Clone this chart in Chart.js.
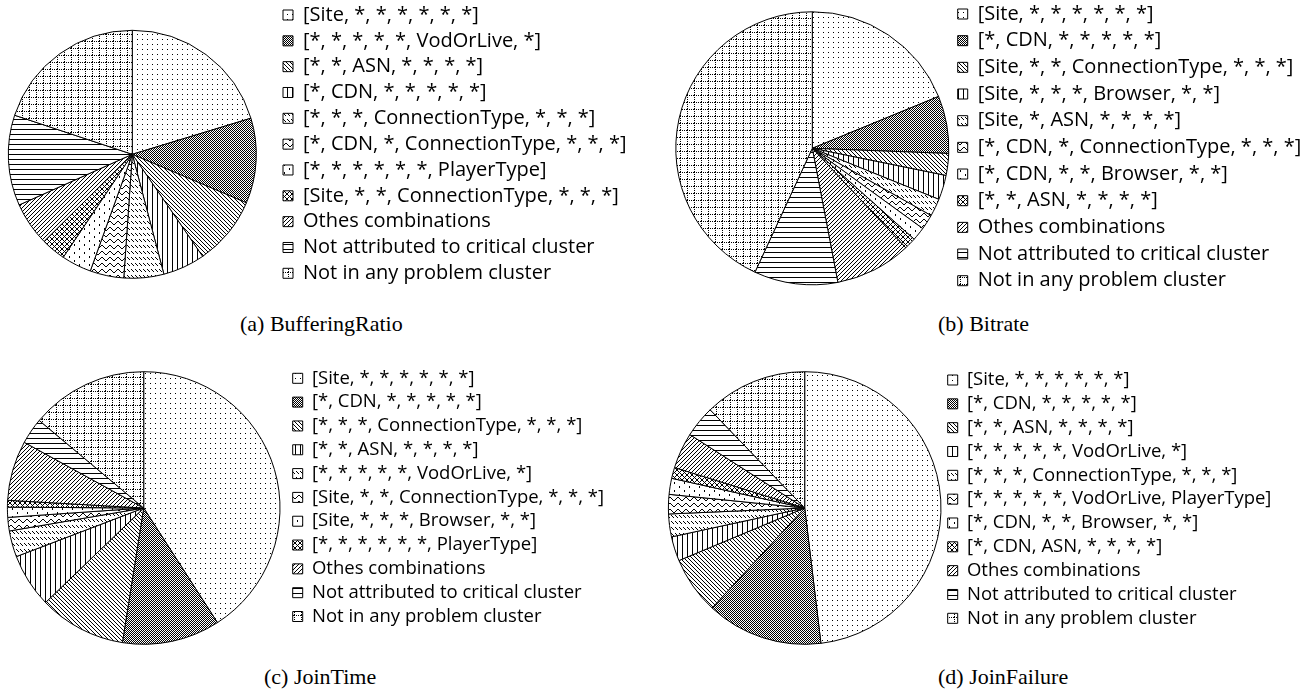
<!DOCTYPE html>
<html>
<head>
<meta charset="utf-8">
<script src="https://cdn.jsdelivr.net/npm/chart.js@4.4.0/dist/chart.umd.min.js"></script>
<style>
  html, body { margin: 0; padding: 0; background: #fff; width: 1313px; height: 692px; overflow: hidden; }
  body { position: relative; }
  canvas { position: absolute; }
  .cap { position: absolute; font-family: "Liberation Serif", "Times New Roman", serif; font-size: 22px; color: #000;
         transform: translateY(-50%); white-space: nowrap; }
</style>
</head>
<body>
<canvas id="pieA"></canvas>
<canvas id="pieB"></canvas>
<canvas id="pieC"></canvas>
<canvas id="pieD"></canvas>
<div class="cap" style="left:240px;top:324px">(a) BufferingRatio</div>
<div class="cap" style="left:938px;top:324px">(b) Bitrate</div>
<div class="cap" style="left:264px;top:677px">(c) JoinTime</div>
<div class="cap" style="left:938px;top:677px">(d) JoinFailure</div>
<script>
// labels and shares (%), clockwise from 12 o'clock
const labelsBuffering = [
  '[Site, *, *, *, *, *, *]',
  '[*, *, *, *, *, VodOrLive, *]',
  '[*, *, ASN, *, *, *, *]',
  '[*, CDN, *, *, *, *, *]',
  '[*, *, *, ConnectionType, *, *, *]',
  '[*, CDN, *, ConnectionType, *, *, *]',
  '[*, *, *, *, *, *, PlayerType]',
  '[Site, *, *, ConnectionType, *, *, *]',
  'Othes combinations',
  'Not attributed to critical cluster',
  'Not in any problem cluster'
];
const valuesBuffering = [20.3, 11.1, 9.0, 5.5, 5.2, 4.4, 3.9, 3.2, 5.7, 11.8, 19.9];

const labelsBitrate = [
  '[Site, *, *, *, *, *, *]',
  '[*, CDN, *, *, *, *, *]',
  '[Site, *, *, ConnectionType, *, *, *]',
  '[Site, *, *, *, Browser, *, *]',
  '[Site, *, ASN, *, *, *, *]',
  '[*, CDN, *, ConnectionType, *, *, *]',
  '[*, CDN, *, *, Browser, *, *]',
  '[*, *, ASN, *, *, *, *]',
  'Othes combinations',
  'Not attributed to critical cluster',
  'Not in any problem cluster'
];
const valuesBitrate = [18.8, 6.8, 2.6, 2.9, 2.1, 1.8, 1.6, 1.4, 9.0, 9.9, 43.1];

const labelsJoinTime = [
  '[Site, *, *, *, *, *, *]',
  '[*, CDN, *, *, *, *, *]',
  '[*, *, *, ConnectionType, *, *, *]',
  '[*, *, ASN, *, *, *, *]',
  '[*, *, *, *, *, VodOrLive, *]',
  '[Site, *, *, ConnectionType, *, *, *]',
  '[Site, *, *, *, Browser, *, *]',
  '[*, *, *, *, *, *, PlayerType]',
  'Othes combinations',
  'Not attributed to critical cluster',
  'Not in any problem cluster'
];
const valuesJoinTime = [40.9, 11.6, 10.3, 6.4, 3.1, 1.6, 1.2, 0.8, 7.1, 3.1, 13.9];

const labelsJoinFailure = [
  '[Site, *, *, *, *, *, *]',
  '[*, CDN, *, *, *, *, *]',
  '[*, *, ASN, *, *, *, *]',
  '[*, *, *, *, *, VodOrLive, *]',
  '[*, *, *, ConnectionType, *, *, *]',
  '[*, *, *, *, *, VodOrLive, PlayerType]',
  '[*, CDN, *, *, Browser, *, *]',
  '[*, CDN, ASN, *, *, *, *]',
  'Othes combinations',
  'Not attributed to critical cluster',
  'Not in any problem cluster'
];
const valuesJoinFailure = [48.1, 13.8, 6.8, 2.9, 2.7, 2.3, 1.9, 1.3, 4.25, 3.75, 12.2];

// black & white fill tiles, one per legend slot
function tile(w, h, draw) {
  const c = document.createElement('canvas');
  c.width = w; c.height = h;
  const g = c.getContext('2d');
  g.fillStyle = '#fff';
  g.fillRect(0, 0, w, h);
  g.fillStyle = '#000';
  draw(g);
  return c;
}
function px(g, pts) { pts.forEach(p => g.fillRect(p[0], p[1], 1, 1)); }

const tiles = [
  tile(5, 5, g => px(g, [[0, 0]])),                                      // sparse dots
  tile(2, 2, g => px(g, [[0, 0], [1, 1]])),                              // dark grey
  tile(4, 4, g => px(g, [[0, 0], [1, 1], [2, 2], [3, 3]])),              // dense backslash
  tile(5, 1, g => px(g, [[0, 0]])),                                      // vertical
  tile(4, 6, g => px(g, [[0, 0], [1, 1], [2, 2]])),                      // short dashes
  tile(8, 6, g => px(g, [[0, 2], [1, 1], [2, 0], [3, 0], [4, 1], [5, 2], [6, 3], [7, 3]])), // wave
  tile(10, 8, g => px(g, [[2, 1], [2, 2], [7, 5], [7, 6]])),             // scattered marks
  tile(5, 5, g => px(g, [[0, 0], [1, 1], [2, 2], [3, 3], [4, 4], [0, 4], [1, 3], [3, 1], [4, 0]])), // crosshatch
  tile(4, 4, g => px(g, [[0, 3], [1, 2], [2, 1], [3, 0]])),              // slash
  tile(1, 5, g => px(g, [[0, 0]])),                                      // horizontal
  tile(7, 7, g => px(g, [[0, 0], [2, 0], [4, 0], [6, 0], [0, 2], [0, 4], [0, 6]]))  // dotted grid
];

Chart.defaults.color = '#000';
Chart.defaults.font.family = '"Open Sans"';

const panels = [
  { id: 'pieA', labels: labelsBuffering, values: valuesBuffering, cx: 132.3, cy: 154.3, r: 124, boxX: 283, row0: 15, step: 25.83, font: 20 },
  { id: 'pieB', labels: labelsBitrate, values: valuesBitrate, cx: 812.3, cy: 148.3, r: 136.5, boxX: 957.7, row0: 14, step: 26.67, font: 20 },
  { id: 'pieC', labels: labelsJoinTime, values: valuesJoinTime, cx: 143.7, cy: 508, r: 136.3, boxX: 292.7, row0: 378.3, step: 23.82, font: 18.5 },
  { id: 'pieD', labels: labelsJoinFailure, values: valuesJoinFailure, cx: 804.7, cy: 508, r: 136.3, boxX: 947.7, row0: 380, step: 23.83, font: 18.5 }
];

panels.forEach(p => {
  const pad = p.step - p.font;
  const top = p.row0 - pad - p.font / 2;
  const legLeft = p.boxX - pad;
  const left = 2 * p.cx - legLeft;
  const cv = document.getElementById(p.id);
  const cTop = Math.floor(top), cLeft = Math.floor(left);
  const padT = top - cTop, padL = left - cLeft;
  const H = Math.ceil(2 * (p.cy - top) + padT);
  const padB = cTop + H - (2 * p.cy - top);
  const W = 720;
  cv.width = W; cv.height = H;
  cv.style.left = cLeft + 'px'; cv.style.top = cTop + 'px';
  cv.style.width = W + 'px'; cv.style.height = H + 'px';
  const ctx = cv.getContext('2d');
  const fills = tiles.map(t => ctx.createPattern(t, 'repeat'));

  const chart = new Chart(ctx, {
    type: 'pie',
    data: {
      labels: p.labels,
      datasets: [{
        data: p.values,
        backgroundColor: fills,
        borderColor: '#000',
        borderWidth: 1,
        radius: p.r
      }]
    },
    options: {
      responsive: false,
      animation: false,
      layout: { padding: { left: padL, top: padT, bottom: padB, right: 0 } },
      plugins: {
        legend: {
          position: 'right',
          align: 'start',
          maxWidth: 2000,
          labels: { boxWidth: 10, boxHeight: 10, padding: pad, font: { size: p.font }, color: '#000' }
        },
        tooltip: { enabled: false }
      }
    }
  });
  // push the legend to its place in the figure
  chart.options.layout.padding.right = chart.legend.left - (legLeft - cLeft);
  chart.update('none');
});
</script>
</body>
</html>
